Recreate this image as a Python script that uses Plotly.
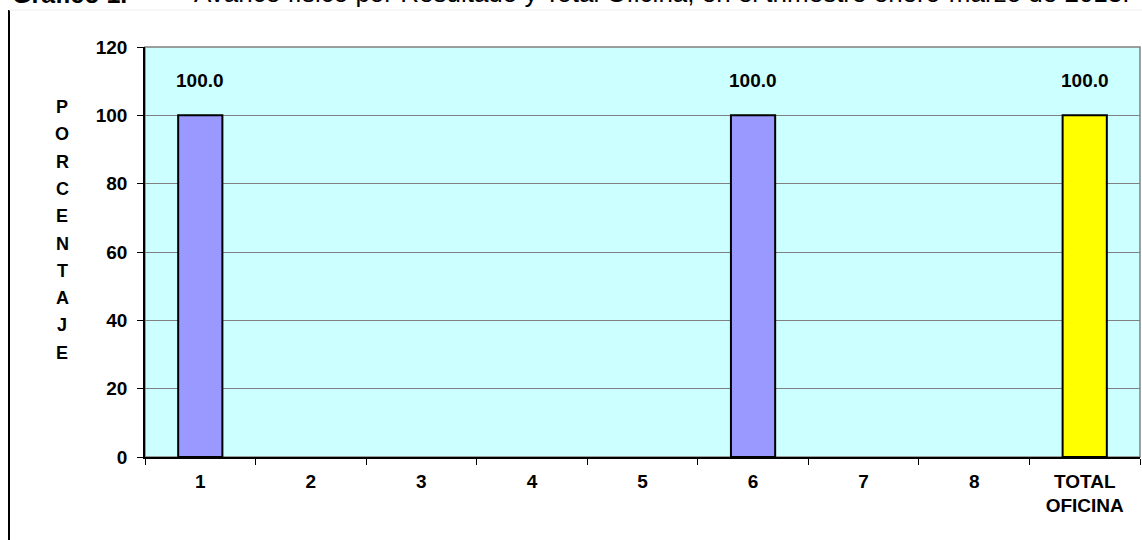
import plotly.graph_objects as go

# Data
categorias = ["1", "2", "3", "4", "5", "6", "7", "8", "TOTAL<br>OFICINA"]
avance = [100.0, None, None, None, None, 100.0, None, None, 100.0]
colores = ["#9999FF"] * 8 + ["#FFFF00"]
y_ticks = [0, 20, 40, 60, 80, 100, 120]
titulo_y = "PORCENTAJE"

W, H = 1142, 540
ML, MR, MT, MB = 145, 2, 47, 83
pw, ph = W - ML - MR, H - MT - MB


def px_x(x):
    return (x - ML) / pw


def px_y(y):
    return (H - MB - y) / ph


font = dict(family="Arial, Liberation Sans, sans-serif", color="black")

fig = go.Figure()
fig.add_trace(go.Bar(
    x=list(range(len(categorias))),
    y=avance,
    marker=dict(color=colores, line=dict(color="black", width=2)),
    width=0.4,
    hoverinfo="y",
))

# Data labels above bars
for i, v in enumerate(avance):
    if v is not None:
        fig.add_annotation(x=i, y=v, text=f"<b>{v:.1f}</b>", showarrow=False,
                           yshift=35, font=dict(size=19, **font))

# Stacked y-axis title letters
for i, ch in enumerate(titulo_y):
    fig.add_annotation(xref="paper", yref="paper", x=px_x(62), y=px_y(107 + i * 27.3),
                       xanchor="center", yanchor="middle",
                       text=f"<b>{ch}</b>", showarrow=False, font=dict(size=18, **font))

# Cut-off title at top
fig.add_annotation(xref="paper", yref="paper", x=px_x(10), y=px_y(10),
                   xanchor="left", yanchor="bottom", showarrow=False,
                   text="<b>Gráfico 1.</b>",
                   font=dict(size=25, **font))
fig.add_annotation(xref="paper", yref="paper", x=px_x(192), y=px_y(10),
                   xanchor="left", yanchor="bottom", showarrow=False,
                   text="Avance físico por Resultado y Total Oficina, en el trimestre enero-marzo de 2013.",
                   font=dict(size=26, **font))

# page frame lines
fig.add_shape(type="line", xref="paper", yref="paper",
              x0=px_x(9), x1=px_x(9), y0=px_y(10), y1=px_y(H),
              line=dict(color="black", width=2))
fig.add_shape(type="line", xref="paper", yref="paper",
              x0=px_x(9), x1=px_x(W), y0=px_y(10), y1=px_y(10),
              line=dict(color="#EEEEEE", width=1))
# plot area border
fig.add_shape(type="rect", xref="paper", yref="paper", x0=0, x1=1, y0=0, y1=1,
              line=dict(color="#808080", width=1.5), layer="below")

fig.update_layout(
    width=W, height=H,
    margin=dict(l=ML, r=MR, t=MT, b=MB),
    plot_bgcolor="#CCFFFF",
    paper_bgcolor="white",
    showlegend=False,
    bargap=0.6,
    font=dict(size=19, **font),
)
fig.update_xaxes(
    range=[-0.5, len(categorias) - 0.5],
    tickvals=list(range(len(categorias))),
    ticktext=[f"<b>{c}</b>" for c in categorias],
    ticks="", showline=True, linecolor="black", linewidth=1.5,
    tickfont=dict(size=19, **font), showgrid=False, zeroline=False,
    ticklabelstandoff=6,
    minor=dict(tickvals=[i - 0.5 for i in range(len(categorias) + 1)],
               ticks="outside", ticklen=6, tickcolor="black", showgrid=False),
)
fig.update_yaxes(
    range=[0, 120], tickvals=y_ticks, ticktext=[f"<b>{t}</b>" for t in y_ticks],
    ticks="outside", ticklen=6, tickcolor="black",
    showline=True, linecolor="black", linewidth=1.5,
    showgrid=True, gridcolor="#808080", gridwidth=1, zeroline=False,
    tickfont=dict(size=19, **font), ticklabelstandoff=6,
)

fig.write_html("out.html", config={"displayModeBar": False},
               post_script="document.body.style.margin='0px';")
